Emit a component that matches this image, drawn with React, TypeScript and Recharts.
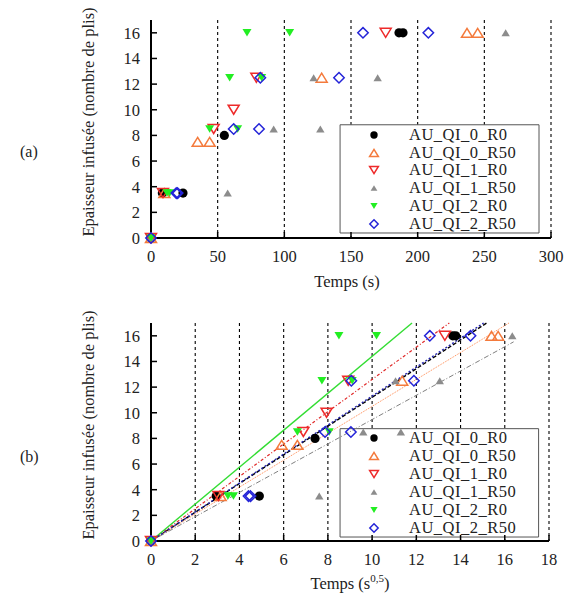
import React from "react";
import { ScatterChart, Scatter, XAxis, YAxis, CartesianGrid, Legend, ReferenceArea } from "recharts";

type P = { x: number; y: number };

// (a) epaisseur vs temps (s)
const A_QI0_R0: P[] = [{ x: 0, y: 0 }, { x: 8.5, y: 3.5 }, { x: 24, y: 3.5 }, { x: 55, y: 8 }, { x: 186, y: 16 }, { x: 189, y: 16 }];
const A_QI0_R50: P[] = [{ x: 0, y: 0 }, { x: 10, y: 3.5 }, { x: 35, y: 7.5 }, { x: 44, y: 7.5 }, { x: 128, y: 12.5 }, { x: 237, y: 16 }, { x: 245, y: 16 }];
const A_QI1_R0: P[] = [{ x: 0, y: 0 }, { x: 9, y: 3.5 }, { x: 47, y: 8.5 }, { x: 62, y: 10 }, { x: 79, y: 12.5 }, { x: 176, y: 16 }];
const A_QI1_R50: P[] = [{ x: 0, y: 0 }, { x: 57.5, y: 3.5 }, { x: 92, y: 8.5 }, { x: 127, y: 8.5 }, { x: 122, y: 12.5 }, { x: 170, y: 12.5 }, { x: 266, y: 16 }];
const A_QI2_R0: P[] = [{ x: 0, y: 0 }, { x: 12, y: 3.5 }, { x: 14, y: 3.5 }, { x: 44, y: 8.5 }, { x: 65, y: 8.5 }, { x: 59, y: 12.5 }, { x: 83, y: 12.5 }, { x: 72, y: 16 }, { x: 104, y: 16 }];
const A_QI2_R50: P[] = [{ x: 0, y: 0 }, { x: 19, y: 3.5 }, { x: 20, y: 3.5 }, { x: 62, y: 8.5 }, { x: 81, y: 8.5 }, { x: 82, y: 12.5 }, { x: 141, y: 12.5 }, { x: 159, y: 16 }, { x: 208, y: 16 }];

// (b) epaisseur vs racine du temps (s^0,5)
const B_QI0_R0: P[] = [{ x: 0, y: 0 }, { x: 2.95, y: 3.5 }, { x: 4.9, y: 3.5 }, { x: 7.42, y: 8 }, { x: 13.65, y: 16 }, { x: 13.78, y: 16 }];
const B_QI0_R50: P[] = [{ x: 0, y: 0 }, { x: 3.15, y: 3.5 }, { x: 5.91, y: 7.5 }, { x: 6.62, y: 7.5 }, { x: 11.36, y: 12.5 }, { x: 15.4, y: 16 }, { x: 15.7, y: 16 }];
const B_QI1_R0: P[] = [{ x: 0, y: 0 }, { x: 3.05, y: 3.5 }, { x: 6.89, y: 8.5 }, { x: 7.94, y: 10 }, { x: 8.92, y: 12.5 }, { x: 13.29, y: 16 }];
const B_QI1_R50: P[] = [{ x: 0, y: 0 }, { x: 7.61, y: 3.5 }, { x: 9.6, y: 8.5 }, { x: 11.3, y: 8.5 }, { x: 11.06, y: 12.5 }, { x: 13.06, y: 12.5 }, { x: 16.34, y: 16 }];
const B_QI2_R0: P[] = [{ x: 0, y: 0 }, { x: 3.48, y: 3.5 }, { x: 3.73, y: 3.5 }, { x: 6.62, y: 8.5 }, { x: 8.06, y: 8.5 }, { x: 7.73, y: 12.5 }, { x: 9.1, y: 12.5 }, { x: 8.5, y: 16 }, { x: 10.2, y: 16 }];
const B_QI2_R50: P[] = [{ x: 0, y: 0 }, { x: 4.41, y: 3.5 }, { x: 4.5, y: 3.5 }, { x: 7.87, y: 8.5 }, { x: 9.04, y: 8.5 }, { x: 9.06, y: 12.5 }, { x: 11.89, y: 12.5 }, { x: 12.61, y: 16 }, { x: 14.45, y: 16 }];

const NAMES = ["AU_QI_0_R0", "AU_QI_0_R50", "AU_QI_1_R0", "AU_QI_1_R50", "AU_QI_2_R0", "AU_QI_2_R50"];
const X_TICKS_A = [0, 50, 100, 150, 200, 250, 300];
const X_TICKS_B = [0, 2, 4, 6, 8, 10, 12, 14, 16, 18];
const Y_TICKS = [0, 2, 4, 6, 8, 10, 12, 14, 16];

// linear fits through origin, (b) only
const FIT_SLOPES = [1.12, 1.05, 1.26, 0.947, 1.44, 1.13];
const FIT_XMAX = 16.4;
const Y_MAX = 17;

const DATA_A = [A_QI0_R0, A_QI0_R50, A_QI1_R0, A_QI1_R50, A_QI2_R0, A_QI2_R50];
const DATA_B = [B_QI0_R0, B_QI0_R50, B_QI1_R0, B_QI1_R50, B_QI2_R0, B_QI2_R50];

const MARKS = [
  { kind: "circle", color: "#000000" },
  { kind: "up", color: "#f47a3c" },
  { kind: "down", color: "#ee2a2a" },
  { kind: "upFill", color: "#8c8c8c" },
  { kind: "downFill", color: "#22ee22" },
  { kind: "diamond", color: "#2424d8" },
];
const FIT_STYLE = [
  { stroke: "#000000", strokeWidth: 1.4, strokeDasharray: "4 2" },
  { stroke: "#ff8a50", strokeWidth: 1, strokeDasharray: "1 1" },
  { stroke: "#e02828", strokeWidth: 1.2, strokeDasharray: "3 2 1 2" },
  { stroke: "#808080", strokeWidth: 1, strokeDasharray: "5 2 1 2" },
  { stroke: "#33dd33", strokeWidth: 1.4 },
  { stroke: "#2424b0", strokeWidth: 1.4, strokeDasharray: "2 2" },
];

const FONT = "Liberation Serif, Times New Roman, DejaVu Serif, serif";

function Mark({ kind, color, cx, cy, s = 1 }: { kind: string; color: string; cx: number; cy: number; s?: number }) {
  if (cx == null || cy == null) return <g />;
  switch (kind) {
    case "circle":
      return <circle cx={cx} cy={cy} r={4.6 * s} fill={color} />;
    case "up": {
      const w = 5.5 * s, h = 9 * s;
      return <path d={`M${cx - w},${cy + h / 2}L${cx + w},${cy + h / 2}L${cx},${cy - h / 2}Z`} fill="none" stroke={color} strokeWidth={1.5} />;
    }
    case "down": {
      const w = 5.5 * s, h = 9 * s;
      return <path d={`M${cx - w},${cy - h / 2}L${cx + w},${cy - h / 2}L${cx},${cy + h / 2}Z`} fill="none" stroke={color} strokeWidth={1.5} />;
    }
    case "upFill": {
      const w = 4.2 * s, h = 7 * s;
      return <path d={`M${cx - w},${cy + h / 2}L${cx + w},${cy + h / 2}L${cx},${cy - h / 2}Z`} fill={color} />;
    }
    case "downFill": {
      const w = 4.5 * s, h = 7.5 * s;
      return <path d={`M${cx - w},${cy - h / 2}L${cx + w},${cy - h / 2}L${cx},${cy + h / 2}Z`} fill={color} />;
    }
    default: {
      const r = 5.2 * s;
      return <path d={`M${cx},${cy - r}L${cx + r},${cy}L${cx},${cy + r}L${cx - r},${cy}Z`} fill="none" stroke={color} strokeWidth={1.5} />;
    }
  }
}

// key text + symbols; the white box itself is a ReferenceArea under the points
function LegendBox({ rowH, first }: { rowH: number; first: number }) {
  return (
    <div style={{ position: "relative", width: 199, height: 108, fontFamily: FONT, fontSize: 16.5, color: "#222" }}>
      {NAMES.map((n, i) => (
        <div key={n} style={{ position: "absolute", left: 0, top: first + i * rowH - 9, height: 18, display: "flex", alignItems: "center" }}>
          <svg width={69} height={18}>
            <Mark kind={MARKS[i].kind} color={MARKS[i].color} cx={34} cy={9} s={0.8} />
          </svg>
          <span style={{ letterSpacing: 0.5, lineHeight: "18px" }}>{n}</span>
        </div>
      ))}
    </div>
  );
}

const tickStyle = { fill: "#222", fontSize: 16.5, fontFamily: FONT };
const blank = () => "";

function Panel({ data, xTicks, xMax, fits, margin, height, xLabel, legendTop, legendRow, legendFirst, keyBox }: any) {
  return (
    <ScatterChart width={571} height={height} margin={margin}>
      <CartesianGrid horizontal={false} stroke="#000" strokeWidth={1.1} strokeDasharray="3 3" />
      <XAxis type="number" dataKey="x" domain={[0, xMax]} ticks={xTicks} interval={0} height={50}
        axisLine={{ stroke: "#000", strokeWidth: 2 }} tickLine={{ stroke: "#000", strokeWidth: 1.5 }}
        tickSize={-6} tickMargin={18} tick={tickStyle} label={{ content: () => xLabel }} />
      <XAxis xAxisId="top" orientation="top" type="number" domain={[0, xMax]} ticks={xTicks} height={0}
        axisLine={{ stroke: "#000", strokeWidth: 2 }} tickLine={{ stroke: "#000", strokeWidth: 1.5 }}
        tickSize={-6} tickFormatter={blank} />
      <YAxis type="number" dataKey="y" domain={[0, Y_MAX]} ticks={Y_TICKS} interval={0} width={151}
        axisLine={{ stroke: "#000", strokeWidth: 2 }} tickLine={{ stroke: "#000", strokeWidth: 1.5 }}
        tickSize={-6} tickMargin={17} tick={tickStyle}
        label={{
          content: () => (
            <text transform={`translate(94,${margin.top + 102}) rotate(-90)`} textAnchor="middle" fontFamily={FONT} fontSize={16.5} fill="#222">
              Epaisseur infusée (nombre de plis)
            </text>
          ),
        }} />
      <YAxis yAxisId="r" orientation="right" type="number" domain={[0, Y_MAX]} ticks={Y_TICKS} width={0}
        axisLine={{ stroke: "#000", strokeWidth: 2 }} tickLine={{ stroke: "#000", strokeWidth: 1.5 }}
        tickSize={-6} tickFormatter={blank} />
      {fits &&
        fits.map((f: P[], i: number) => (
          <Scatter key={"fit" + i} data={f} line={FIT_STYLE[i]} shape={() => <g />} legendType="none" isAnimationActive={false} />
        ))}
      <ReferenceArea x1={keyBox[0]} x2={keyBox[1]} y1={keyBox[2]} y2={keyBox[3]} fill="#fff" fillOpacity={1} stroke="#555" strokeWidth={1} />
      {data.map((d: P[], i: number) => (
        <Scatter key={NAMES[i]} name={NAMES[i]} data={d} isAnimationActive={false}
          shape={(p: any) => <Mark kind={MARKS[i].kind} color={MARKS[i].color} cx={p.cx} cy={p.cy} />} />
      ))}
      <Legend layout="vertical" align="center" verticalAlign="middle"
        wrapperStyle={{ left: 340, top: legendTop, width: 199, height: 108 }}
        content={() => <LegendBox rowH={legendRow} first={legendFirst} />} />
    </ScatterChart>
  );
}

export default function App() {
  const fits = FIT_SLOPES.map((k) => {
    const xe = Math.min(FIT_XMAX, Y_MAX / k);
    return [{ x: 0, y: 0 }, { x: xe, y: k * xe }];
  });
  return (
    <div style={{ position: "absolute", left: 0, top: 0, width: 571, height: 595, background: "#fff", fontFamily: FONT }}>
      <div style={{ position: "absolute", left: 0, top: 0 }}>
        <Panel data={DATA_A} xTicks={X_TICKS_A} xMax={300} height={300}
          margin={{ top: 20, right: 20, bottom: 12, left: 0 }}
          legendTop={125} legendRow={17.7} legendFirst={10} keyBox={[141.8, 291, 0.39, 8.83]}
          xLabel={<text x={347} y={287} textAnchor="middle" fontFamily={FONT} fontSize={16.5} fill="#222">Temps (s)</text>} />
      </div>
      <div style={{ position: "absolute", left: 0, top: 300 }}>
        <Panel data={DATA_B} xTicks={X_TICKS_B} xMax={18} height={295} fits={fits}
          margin={{ top: 23, right: 22, bottom: 4, left: 0 }}
          legendTop={129} legendRow={18} legendFirst={9} keyBox={[8.55, 17.53, 0.31, 8.76]}
          xLabel={
            <text x={350} y={289} textAnchor="middle" fontFamily={FONT} fontSize={16.5} fill="#222">
              Temps (s<tspan fontSize={11} dy={-7}>0,5</tspan><tspan dy={7}>)</tspan>
            </text>
          } />
      </div>
      <span style={{ position: "absolute", left: 20, top: 142, fontSize: 16, lineHeight: "20px", color: "#222" }}>(a)</span>
      <span style={{ position: "absolute", left: 20, top: 447, fontSize: 16, lineHeight: "20px", color: "#222" }}>(b)</span>
    </div>
  );
}
